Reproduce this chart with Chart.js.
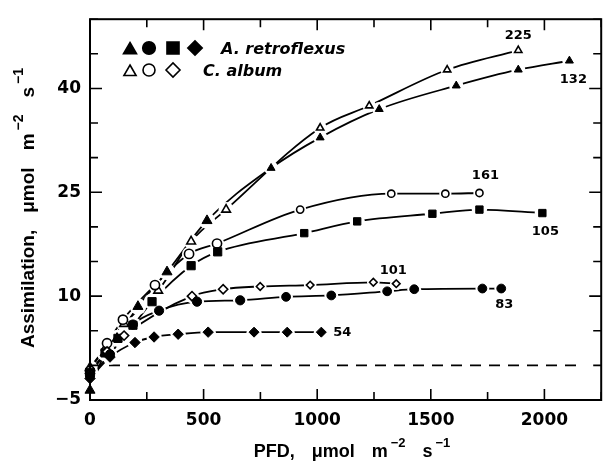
<!DOCTYPE html>
<html>
<head>
<meta charset="utf-8">
<script src="https://cdn.jsdelivr.net/npm/chart.js@4.4.0/dist/chart.umd.min.js"></script>
<style>
  html, body { margin: 0; padding: 0; background: #fff; }
</style>
</head>
<body>
<canvas id="chart" width="608" height="462"></canvas>
<script>
// axis ticks
const xTicks = [0, 500, 1000, 1500, 2000];
const yTicks = [-5, 10, 25, 40];

// A. retroflexus, filled markers
const ar132X = [0, 66, 119, 211, 339, 515, 797, 1013, 1273, 1612, 1885, 2110];
const ar132Y = [-3.6, 1.8, 3.9, 8.5, 13.5, 20.9, 28.5, 32.9, 37.0, 40.4, 42.7, 44.0];
const ar105X = [0, 66, 123, 189, 273, 445, 562, 943, 1176, 1507, 1714, 1991];
const ar105Y = [-1.0, 1.8, 3.9, 5.8, 9.2, 14.4, 16.4, 19.1, 20.8, 21.9, 22.5, 22.0];
const ar83X = [0, 88, 189, 304, 471, 661, 863, 1062, 1308, 1427, 1727, 1810];
const ar83Y = [-1.5, 1.6, 5.9, 7.9, 9.2, 9.4, 9.9, 10.1, 10.7, 11.0, 11.1, 11.1];
const ar54X = [0, 88, 198, 282, 388, 520, 722, 868, 1018];
const ar54Y = [-1.9, 1.2, 3.3, 4.1, 4.5, 4.8, 4.8, 4.8, 4.8];

// C. album, open markers
const ca225X = [0, 70, 150, 300, 445, 599, 1013, 1229, 1572, 1885];
const ca225Y = [-0.3, 2.6, 6.0, 10.8, 17.9, 22.5, 34.3, 37.5, 42.7, 45.5];
const ca161X = [0, 75, 145, 286, 436, 559, 925, 1326, 1564, 1714];
const ca161Y = [-0.8, 3.2, 6.6, 11.6, 16.1, 17.6, 22.5, 24.8, 24.8, 24.9];
const ca101X = [0, 75, 150, 449, 586, 749, 969, 1247, 1348];
const ca101Y = [-1.2, 2.0, 4.3, 10.0, 11.0, 11.4, 11.6, 12.0, 11.8];

// zero reference
const zeroX = [0, 2150];
const zeroY = [0, 0];

function pts(xs, ys) {
    return xs.map((x, i) => ({x: x, y: ys[i]}));
}

function sizeBy(big, small) {
    return function (c) {
        return c.raw && c.raw.x < 700 ? big : small;
    };
}

function series(xs, ys, style, filled, big, small, tag) {
    return {
        data: pts(xs, ys),
        borderColor: '#000',
        borderWidth: 1.8,
        tension: 0.35,
        cubicInterpolationMode: 'monotone',
        pointStyle: style,
        pointRadius: sizeBy(big, small),
        pointBackgroundColor: filled ? '#000' : '#fff',
        pointBorderColor: '#000',
        pointBorderWidth: filled ? 1 : 1.6,
        clip: false,
        tag: tag
    };
}

function drawMark(ctx, style, x, y, r, filled) {
    ctx.beginPath();
    if (style === 'circle') {
        ctx.arc(x, y, r, 0, Math.PI * 2);
    } else if (style === 'triangle') {
        for (let k = 0; k < 3; k++) {
            let a = k * 2 * Math.PI / 3;
            let px = x + Math.sin(a) * r, py = y - Math.cos(a) * r;
            k === 0 ? ctx.moveTo(px, py) : ctx.lineTo(px, py);
        }
        ctx.closePath();
    } else if (style === 'rect') {
        let s = r * Math.SQRT1_2;
        ctx.rect(x - s, y - s, 2 * s, 2 * s);
    } else {
        ctx.moveTo(x - r, y); ctx.lineTo(x, y - r); ctx.lineTo(x + r, y); ctx.lineTo(x, y + r);
        ctx.closePath();
    }
    ctx.fillStyle = filled ? '#000' : '#fff';
    ctx.fill();
    ctx.lineWidth = 1.6;
    ctx.strokeStyle = '#000';
    ctx.stroke();
}

// text with superscript parts, drawn along the baseline
function drawRich(ctx, parts, cx, baseY, mainFont, supFont, raise, gap) {
    let w = 0;
    parts.forEach((p, i) => {
        ctx.font = p.sup ? supFont : mainFont;
        p.w = ctx.measureText(p.t).width;
        p.g = i === 0 ? 0 : (p.sup ? 3 : gap);
        w += p.w + p.g;
    });
    let x = cx - w / 2;
    ctx.textAlign = 'left';
    ctx.textBaseline = 'alphabetic';
    parts.forEach(p => {
        x += p.g;
        ctx.font = p.sup ? supFont : mainFont;
        ctx.fillText(p.t, x, p.sup ? baseY - raise : baseY);
        x += p.w;
    });
}

const decor = {
    id: 'decor',
    afterDatasetsDraw(chart) {
        const ctx = chart.ctx;
        const metas = chart.data.datasets.map((ds, i) => ds.tag ? chart.getDatasetMeta(i) : null).filter(m => m);
        ctx.save();
        ctx.fillStyle = '#fff';
        metas.forEach(m => m.data.forEach(pt => {
            ctx.beginPath();
            ctx.arc(pt.x, pt.y, pt.options.radius + 2.5, 0, Math.PI * 2);
            ctx.fill();
        }));
        metas.forEach(m => m.data.forEach(pt => pt.draw(ctx, chart.chartArea)));
        ctx.restore();
    },
    afterDraw(chart) {
        const ctx = chart.ctx;
        const a = chart.chartArea;
        const xs = chart.scales.x, ys = chart.scales.y;
        ctx.save();
        ctx.strokeStyle = '#000';
        ctx.fillStyle = '#000';

        // frame
        ctx.lineWidth = 2;
        ctx.strokeRect(a.left, a.top, a.right - a.left, a.bottom - a.top);

        // inner ticks on all four sides
        ctx.lineWidth = 1.6;
        ctx.beginPath();
        for (let v = 0; v <= 2250; v += 250) {
            let px = xs.getPixelForValue(v);
            let len = v % 500 === 0 ? 11 : 8;
            ctx.moveTo(px, a.bottom); ctx.lineTo(px, a.bottom - len);
            ctx.moveTo(px, a.top); ctx.lineTo(px, a.top + len);
        }
        for (let v = -5; v <= 50; v += 5) {
            let py = ys.getPixelForValue(v);
            let len = (v + 5) % 15 === 0 ? 12 : 8;
            ctx.moveTo(a.left, py); ctx.lineTo(a.left + len, py);
            ctx.moveTo(a.right, py); ctx.lineTo(a.right - len, py);
        }
        ctx.stroke();

        // axis titles
        drawRich(ctx, [{t: 'PFD,'}, {t: '\u03bcmol'}, {t: 'm'}, {t: '\u22122', sup: true}, {t: 's'}, {t: '\u22121', sup: true}],
            352, 457, 'bold 18px "Liberation Sans"', 'bold 13px "Liberation Sans"', 10, 17);
        ctx.save();
        ctx.translate(34, 208);
        ctx.rotate(-Math.PI / 2);
        drawRich(ctx, [{t: 'Assimilation,'}, {t: '\u03bcmol'}, {t: 'm'}, {t: '\u22122', sup: true}, {t: 's'}, {t: '\u22121', sup: true}],
            0, 0, 'bold 19px "Liberation Sans"', 'bold 14px "Liberation Sans"', 11, 17);
        ctx.restore();

        // legend
        drawMark(ctx, 'triangle', 130, 50, 7.5, true);
        drawMark(ctx, 'circle', 149, 48, 6.3, true);
        drawMark(ctx, 'rect', 173, 48, 8.5, true);
        drawMark(ctx, 'rectRot', 195, 48, 7.2, true);
        drawMark(ctx, 'triangle', 130, 72, 7, false);
        drawMark(ctx, 'circle', 149, 70, 6, false);
        drawMark(ctx, 'rectRot', 173, 70, 7, false);
        ctx.fillStyle = '#000';
        ctx.font = 'italic bold 16px "DejaVu Sans"';
        ctx.textAlign = 'left';
        ctx.textBaseline = 'alphabetic';
        ctx.fillText('A. retroflexus', 221, 54);
        ctx.fillText('C. album', 203, 76);

        // curve tags next to the last point
        ctx.font = 'bold 13px "DejaVu Sans"';
        ctx.textBaseline = 'middle';
        chart.data.datasets.forEach((ds, i) => {
            if (!ds.tag) return;
            const m = chart.getDatasetMeta(i);
            const last = m.data[m.data.length - 1];
            ctx.textAlign = ds.tagAlign || 'center';
            ctx.fillText(ds.tag, last.x + ds.tagDx, last.y + ds.tagDy);
        });
        ctx.restore();
    }
};

const datasets = [
    Object.assign(series(ca225X, ca225Y, 'triangle', false, 5, 4.2, '225'), {tagDx: 0, tagDy: -15}),
    Object.assign(series(ar132X, ar132Y, 'triangle', true, 5.8, 4.6, '132'), {tagDx: 4, tagDy: 19}),
    Object.assign(series(ca161X, ca161Y, 'circle', false, 4.6, 3.6, '161'), {tagDx: 6, tagDy: -17}),
    Object.assign(series(ar105X, ar105Y, 'rect', true, 5.8, 5.2, '105'), {tagDx: 3, tagDy: 19}),
    Object.assign(series(ca101X, ca101Y, 'rectRot', false, 4.6, 3.8, '101'), {tagDx: -3, tagDy: -13}),
    Object.assign(series(ar83X, ar83Y, 'circle', true, 4.6, 4.4, '83'), {tagDx: 3, tagDy: 16}),
    Object.assign(series(ar54X, ar54Y, 'rectRot', true, 5.2, 5, '54'), {tagDx: 12, tagDy: 0, tagAlign: 'left'}),
    {
        data: pts(zeroX, zeroY),
        borderColor: '#000',
        borderWidth: 1.8,
        borderDash: [11, 8],
        pointRadius: 0
    }
];

new Chart(document.getElementById('chart').getContext('2d'), {
    type: 'line',
    data: {datasets: datasets},
    options: {
        responsive: false,
        animation: false,
        events: [],
        layout: {padding: {top: 12, right: 6, left: 0, bottom: 0}},
        plugins: {legend: {display: false}, tooltip: {enabled: false}},
        scales: {
            x: {
                type: 'linear',
                min: 0,
                max: 2250,
                afterBuildTicks: s => { s.ticks = xTicks.map(v => ({value: v})); },
                afterFit: s => { s.height = 62; },
                grid: {display: false, drawTicks: false},
                border: {display: false},
                ticks: {
                    color: '#000', padding: 10, maxRotation: 0,
                    font: {family: 'DejaVu Sans', size: 17, weight: 'bold'},
                    callback: v => String(v)
                }
            },
            y: {
                type: 'linear',
                min: -5,
                max: 50,
                afterBuildTicks: s => { s.ticks = yTicks.map(v => ({value: v})); },
                afterFit: s => { s.width = 90; },
                grid: {display: false, drawTicks: false},
                border: {display: false},
                ticks: {
                    color: '#000', padding: 9,
                    font: {family: 'DejaVu Sans', size: 17, weight: 'bold'},
                    callback: v => v < 0 ? '\u2212' + Math.abs(v) : String(v)
                }
            }
        }
    },
    plugins: [decor]
});
</script>
</body>
</html>
